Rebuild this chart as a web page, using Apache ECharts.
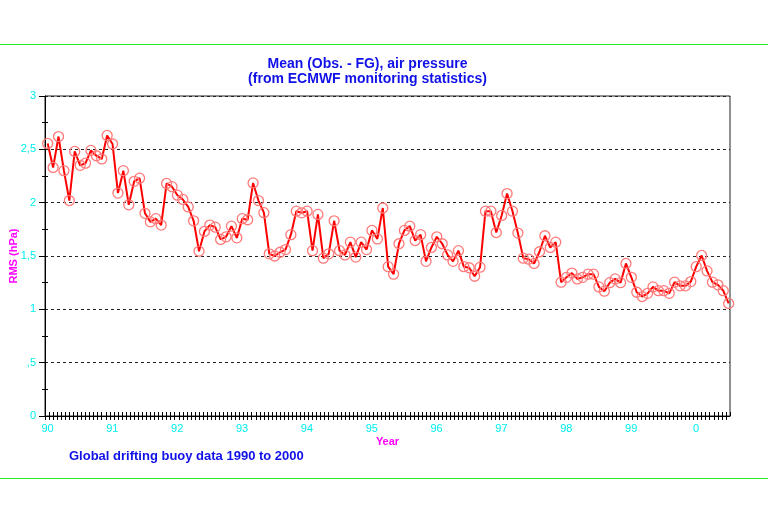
<!DOCTYPE html>
<html>
<head>
<meta charset="utf-8">
<script src="https://cdn.jsdelivr.net/npm/echarts@6/dist/echarts.min.js"></script>
<style>
html,body{margin:0;padding:0;background:#fff;}
#chart{width:768px;height:506px;}
</style>
</head>
<body>
<div id="chart"></div>
<script>
// Monthly RMS values, Jan 1990 .. Jul 2000
var rmsValues = [
  2.555, 2.33, 2.62, 2.30, 2.02, 2.48, 2.35, 2.37, 2.49, 2.44, 2.41, 2.63,
  2.55, 2.09, 2.30, 1.98, 2.20, 2.23, 1.90, 1.82, 1.85, 1.79, 2.18, 2.15,
  2.07, 2.03, 1.96, 1.83, 1.545, 1.73, 1.79, 1.77, 1.655, 1.68, 1.78, 1.67,
  1.85, 1.84, 2.185, 2.02, 1.906, 1.52, 1.50, 1.535, 1.56, 1.70, 1.92, 1.905,
  1.92, 1.55, 1.89, 1.48, 1.52, 1.83, 1.55, 1.51, 1.63, 1.49, 1.63, 1.56,
  1.74, 1.66, 1.95, 1.40, 1.33, 1.615, 1.74, 1.78, 1.645, 1.70, 1.45, 1.58,
  1.68, 1.615, 1.51, 1.45, 1.55, 1.40, 1.39, 1.31, 1.395, 1.92, 1.92, 1.72,
  1.88, 2.085, 1.92, 1.715, 1.48, 1.47, 1.43, 1.54, 1.69, 1.58, 1.63, 1.255,
  1.30, 1.34, 1.285, 1.30, 1.33, 1.33, 1.21, 1.17, 1.25, 1.285, 1.25, 1.43,
  1.30, 1.16, 1.12, 1.15, 1.21, 1.175, 1.175, 1.15, 1.255, 1.22, 1.22, 1.26,
  1.40, 1.505, 1.36, 1.255, 1.23, 1.175, 1.055
];
var xTickLabels = ['90','91','92','93','94','95','96','97','98','99','0'];
var yTickLabels = ['0', ',5', '1', '1,5', '2', '2,5', '3'];
var titleLines = ['Mean (Obs. - FG), air pressure', '(from ECMWF monitoring statistics)'];
var footerText = 'Global drifting buoy data 1990 to 2000';

// x position: years since Jan 1990, plotted at mid-month
var seriesData = rmsValues.map(function (v, i) { return [(i + 0.5) / 12, v]; });

var FONT = 'Liberation Sans, Arial, sans-serif';
var CYAN = '#00eeee';
var MAGENTA = '#ff00ff';
var BLUE = '#1010e8';

var chart = echarts.init(document.getElementById('chart'));
chart.setOption({
  animation: false,
  backgroundColor: '#ffffff',
  textStyle: { fontFamily: FONT },
  grid: {
    left: 45, right: 38, top: 96, bottom: 90,
    containLabel: false, outerBoundsMode: 'none',
    show: true, borderColor: '#222', borderWidth: 1, backgroundColor: 'transparent'
  },
  xAxis: [{
    type: 'value', min: 0, max: 10.5625, interval: 0.0625,
    position: 'bottom',
    name: 'Year', nameLocation: 'middle', nameGap: 20, nameMoveOverlap: false,
    nameTextStyle: { color: MAGENTA, fontSize: 11, fontWeight: 'bold', fontFamily: FONT },
    axisLine: { show: true, lineStyle: { color: '#000', width: 1 } },
    axisTick: { show: true, length: 4, lineStyle: { color: '#000', width: 1 } },
    axisLabel: {
      show: true, color: CYAN, fontSize: 11, margin: 7, fontFamily: FONT,
      showMaxLabel: false, padding: [0, 0, 0, 5],
      formatter: function (v) {
        var r = Math.round(v);
        if (Math.abs(v - r) < 1e-6 && r >= 0 && r < xTickLabels.length) return xTickLabels[r];
        return '';
      }
    },
    splitLine: { show: false }
  }, {
    type: 'value', min: 0, max: 10.5625, interval: 0.0625,
    position: 'bottom',
    axisLine: { show: false },
    axisTick: { show: true, inside: true, length: 4, lineStyle: { color: '#000', width: 1 } },
    axisLabel: { show: false },
    splitLine: { show: false }
  }],
  yAxis: [{
    type: 'value', min: 0, max: 3, interval: 0.5,
    position: 'left',
    name: 'RMS (hPa)', nameLocation: 'middle', nameGap: 26, nameRotate: 90, nameMoveOverlap: false,
    nameTextStyle: { color: MAGENTA, fontSize: 11, fontWeight: 'bold', fontFamily: FONT },
    axisLine: { show: true, lineStyle: { color: '#000', width: 1 } },
    axisTick: { show: true, length: 6, lineStyle: { color: '#000', width: 1 } },
    minorTick: { show: true, splitNumber: 2, length: 3, lineStyle: { color: '#000', width: 1 } },
    axisLabel: {
      show: true, color: CYAN, fontSize: 11, margin: 9, fontFamily: FONT,
      formatter: function (v) {
        var idx = Math.round(v / 0.5);
        return yTickLabels[idx] !== undefined ? yTickLabels[idx] : '';
      }
    },
    splitLine: { show: true, lineStyle: { color: '#222', width: 1, type: [3, 3] } }
  }, {
    type: 'value', min: 0, max: 3, interval: 0.5,
    position: 'left',
    axisLine: { show: false },
    axisTick: { show: false, inside: true },
    minorTick: { show: true, splitNumber: 2, length: 3, lineStyle: { color: '#000', width: 1 } },
    axisLabel: { show: false },
    splitLine: { show: false }
  }],
  series: [{
    type: 'line',
    xAxisIndex: 0, yAxisIndex: 0,
    data: seriesData,
    symbol: 'circle',
    symbolSize: 10,
    lineStyle: { color: '#ff0000', width: 2 },
    itemStyle: { color: 'rgba(255,0,0,0)', borderColor: '#ff7a7a', borderWidth: 1.3 },
    emphasis: { disabled: true },
    z: 5
  }],
  graphic: [
    { type: 'line', shape: { x1: 0, y1: 44.5, x2: 768, y2: 44.5 }, style: { stroke: '#22ee22', lineWidth: 1 } },
    { type: 'line', shape: { x1: 0, y1: 478.5, x2: 768, y2: 478.5 }, style: { stroke: '#22ee22', lineWidth: 1 } },
    { type: 'text', x: 367.5, y: 64.3, style: { text: titleLines[0], fill: BLUE, font: 'bold 14px ' + FONT, textAlign: 'center', textVerticalAlign: 'middle' } },
    { type: 'text', x: 367.5, y: 79.3, style: { text: titleLines[1], fill: BLUE, font: 'bold 14px ' + FONT, textAlign: 'center', textVerticalAlign: 'middle' } },
    { type: 'text', x: 69, y: 456.7, style: { text: footerText, fill: BLUE, font: 'bold 13px ' + FONT, textAlign: 'left', textVerticalAlign: 'middle' } }
  ]
});
</script>
</body>
</html>
